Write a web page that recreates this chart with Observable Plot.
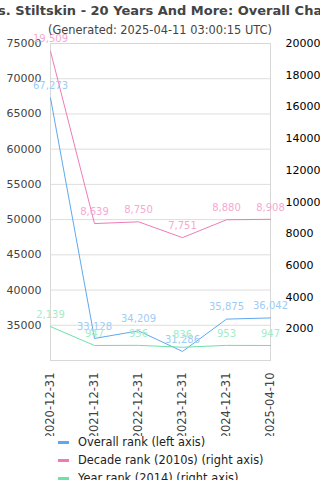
<!DOCTYPE html>
<html><head><meta charset="utf-8">
<script src="https://cdn.jsdelivr.net/npm/d3@7"></script>
<script src="https://cdn.jsdelivr.net/npm/@observablehq/plot@0.6"></script>
<style>
body{margin:0;width:320px;height:480px;overflow:hidden;font-family:"DejaVu Sans",sans-serif;background:#fff;position:relative}
#title{position:absolute;top:1px;left:-200px;width:720px;text-align:center;font-weight:bold;font-size:13px;color:#444;white-space:nowrap;line-height:20px}
#sub{position:absolute;top:21px;left:0;width:320px;text-align:center;font-size:11.4px;color:#444;line-height:18px}
#chart{position:absolute;top:0;left:0}
#legend{position:absolute;top:433px;left:0;width:320px}
.li{height:18px;display:flex;align-items:center;font-size:11.4px;color:#222}
.sw{width:11px;height:3px;margin-left:58px;margin-right:9px}
</style></head><body>
<div id="chart"></div>
<div id="title">Ms. Stiltskin - 20 Years And More: Overall Chart</div>
<div id="sub">(Generated: 2025-04-11 03:00:15 UTC)</div>
<div id="legend"></div>
<script>
const dates = ["2020-12-31","2021-12-31","2022-12-31","2023-12-31","2024-12-31","2025-04-10"];
const overallRank = [67273, 33128, 34209, 31286, 35875, 36042];
const decadeRank = [19509, 8639, 8750, 7751, 8880, 8908];
const yearRank = [2139, 947, 956, 836, 953, 947];
const leftTicks = [35000, 40000, 45000, 50000, 55000, 60000, 65000, 70000, 75000];
const rightTicks = [2000, 4000, 6000, 8000, 10000, 12000, 14000, 16000, 18000, 20000];
const leftDomain = [30000, 75000];
const rightDomain = [0, 20000];
const seriesNames = ["Overall rank (left axis)", "Decade rank (2010s) (right axis)", "Year rank (2014) (right axis)"];
const lineColors = ["#5fa8f0", "#f07ab8", "#6ee0a8"];
const labelColors = ["#9dccf6", "#f6a9d2", "#a3ecc8"];

const toLeft = v => leftDomain[0] + (v - rightDomain[0]) * (leftDomain[1] - leftDomain[0]) / (rightDomain[1] - rightDomain[0]);
const toRight = v => rightDomain[0] + (v - leftDomain[0]) * (rightDomain[1] - rightDomain[0]) / (leftDomain[1] - leftDomain[0]);
const fmt = d3.format(",");

const series = [
  dates.map((d, i) => ({d, v: overallRank[i], y: overallRank[i]})),
  dates.map((d, i) => ({d, v: decadeRank[i], y: toLeft(decadeRank[i])})),
  dates.map((d, i) => ({d, v: yearRank[i], y: toLeft(yearRank[i])}))
];

// alternating grey bands: 35000-40000, 45000-50000, 55000-60000, 65000-70000
const bands = [];
for (let i = 0; i + 1 < leftTicks.length; i += 2) bands.push({y1: leftTicks[i], y2: leftTicks[i + 1]});

const marks = [
  Plot.rectY(bands, {x1: dates[0], x2: dates[dates.length-1], y1: "y1", y2: "y2", fill: "#f2f2f2"}),
  Plot.ruleY(leftTicks, {stroke: "#dddddd"}),
  Plot.frame({stroke: "#d8d8d8"}),
  Plot.axisY(leftTicks, {anchor: "left", tickSize: 0, tickPadding: 9, fontSize: 11, fill: "#444", tickFormat: d => String(d), label: null}),
  Plot.axisY(rightTicks.map(toLeft), {anchor: "right", tickSize: 0, tickPadding: 15, fontSize: 11, fill: "#000", tickFormat: d => String(Math.round(toRight(d))), label: null}),
  Plot.axisX({tickRotate: -90, tickSize: 0, tickPadding: 12, fontSize: 11.5, fill: "#444", label: null})
];
series.forEach((s, k) => {
  marks.push(Plot.line(s, {x: "d", y: "y", stroke: lineColors[k], strokeWidth: 1}));
});
series.forEach((s, k) => {
  marks.push(Plot.text(s, {x: "d", y: "y", text: d => fmt(d.v), dy: -12, fill: labelColors[k], fontSize: 10}));
});

const chart = Plot.plot({
  width: 320, height: 436,
  marginTop: 43, marginBottom: 76, marginLeft: 50, marginRight: 50,
  style: {fontFamily: "DejaVu Sans", fontSize: "11px", overflow: "hidden", background: "transparent"},
  x: {type: "point", domain: dates, padding: 0},
  y: {domain: leftDomain, axis: null},
  marks
});
document.getElementById("chart").append(chart);

const lg = document.getElementById("legend");
seriesNames.forEach((n, k) => {
  const row = document.createElement("div");
  row.className = "li";
  row.innerHTML = `<span class="sw" style="background:${lineColors[k]}"></span><span>${n}</span>`;
  lg.append(row);
});
</script>
</body></html>
